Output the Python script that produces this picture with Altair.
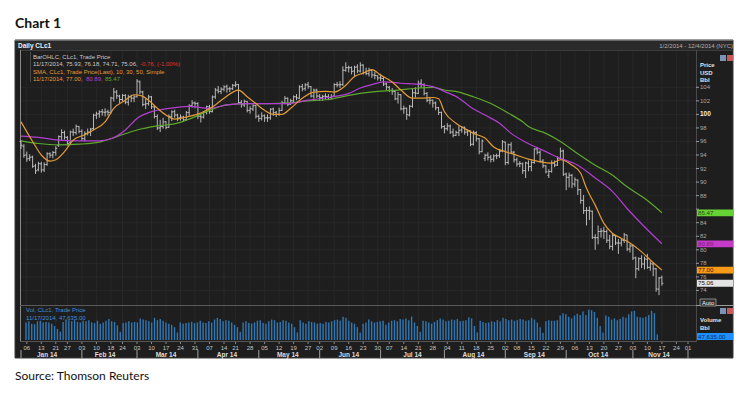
import altair as alt
import pandas as pd

# ---------------- data ----------------
# one entry per trading day, 2 Jan 2014 .. 17 Nov 2014 (CLc1)
OPEN = [96.0, 95.3, 94.0, 93.5, 93.7, 92.4, 91.8, 92.7, 91.8, 92.6, 94.2, 94.0, 94.4, 95.4, 96.7, 97.3, 96.6, 95.8, 97.4, 97.3, 98.2,
        97.5, 96.4, 97.2, 97.4, 97.9, 99.9, 100.1, 100.4, 100.3, 100.4, 100.3, 102.4, 103.3, 102.7, 102.2, 102.8, 101.8, 102.6, 102.4,
        102.6, 104.8, 103.3, 101.5, 101.6, 102.6, 101.1, 99.7, 98.0, 98.2, 98.9, 98.1, 99.7, 100.4, 99.9, 99.5, 99.6, 99.2, 100.3, 101.3, 101.7,
        101.6, 99.7, 99.6, 100.3, 101.1, 100.4, 102.6, 103.6, 103.4, 103.7, 104.1, 103.8, 103.8, 104.3, 104.4, 101.8, 101.4, 101.9, 100.6, 100.8, 101.3,
        99.7, 99.4, 99.8, 99.5, 99.5, 100.8, 100.3, 100.0, 100.6, 101.7, 102.4, 101.5, 102.0, 102.6, 102.4, 104.1, 103.8, 104.4, 104.1, 102.7, 103.6,
        102.7, 102.5, 102.7, 102.6, 102.5, 102.7, 104.4, 104.4, 104.4, 106.5, 106.9, 106.9, 106.4, 107.0, 106.4, 107.3, 106.2, 106.0, 106.5, 105.8, 105.7,
        105.4, 105.3, 104.5, 104.0, 103.5, 103.4, 102.3, 102.9, 100.8, 100.9, 99.9, 101.2, 103.2, 103.1, 104.6, 104.4, 103.1, 102.1, 102.1, 101.7, 101.0, 100.3,
        98.2, 97.9, 98.3, 97.4, 96.9, 97.3, 97.7, 98.1, 97.4, 97.6, 95.6, 97.3, 96.4, 94.5, 93.5, 94.0, 93.7, 93.4, 93.9, 93.9, 94.6,
        95.9, 92.9, 95.5, 94.4, 93.3, 92.7, 92.7, 91.7, 92.8, 92.3, 92.9, 94.9, 94.4, 93.1, 92.4, 91.0, 91.6, 92.8, 92.5, 93.5, 94.6,
        91.2, 90.7, 91.0, 89.7, 90.3, 88.9, 87.3, 85.8, 85.8, 85.7, 81.8, 81.8, 82.7, 82.8, 82.7, 81.4, 80.5, 82.1, 81.0, 81.0, 81.4, 82.2, 80.1,
        80.6, 78.8, 77.2, 78.7, 77.9, 78.6, 77.4, 77.9, 77.2, 74.2, 75.93]
HIGH = [96.2, 95.6, 94.5, 94.1, 93.9, 92.7, 93.0, 93.0, 92.9, 94.4, 94.4, 94.6, 95.3, 96.9, 97.8, 97.6, 96.8, 97.6, 97.9, 98.5, 98.3,
        97.8, 97.5, 97.9, 98.0, 100.1, 100.4, 100.6, 100.8, 100.9, 100.7, 102.6, 103.9, 103.6, 102.9, 103.0, 103.0, 102.9, 102.9, 102.9,
        105.2, 105.0, 103.5, 102.3, 102.9, 102.7, 101.3, 100.0, 99.2, 99.5, 99.0, 100.0, 100.6, 100.7, 100.1, 100.0, 99.8, 100.5, 101.5, 102.1, 101.9,
        101.8, 100.2, 100.5, 101.3, 101.4, 102.8, 103.9, 104.2, 104.0, 104.3, 104.4, 104.1, 104.5, 104.9, 104.5, 102.1, 102.2, 102.0, 101.2, 101.5, 101.4,
        100.0, 100.3, 100.0, 100.0, 100.9, 101.0, 100.5, 101.0, 102.0, 102.7, 102.5, 102.3, 102.8, 103.0, 104.3, 104.5, 104.6, 104.8, 104.2, 103.8, 103.8,
        103.0, 102.9, 103.1, 103.0, 103.0, 104.6, 104.8, 104.9, 107.1, 107.7, 107.2, 107.1, 107.2, 107.4, 107.7, 107.4, 106.9, 106.9, 106.6, 106.3, 105.8,
        106.0, 105.5, 104.7, 104.2, 103.9, 103.5, 103.3, 103.0, 101.3, 101.0, 101.4, 103.8, 104.0, 105.0, 105.2, 104.6, 103.3, 102.6, 102.2, 101.9, 101.1, 100.4,
        98.4, 98.7, 98.5, 97.9, 97.6, 98.3, 98.3, 98.2, 97.8, 97.6, 97.6, 97.5, 96.5, 96.3, 94.2, 94.4, 94.0, 94.1, 94.2, 94.9, 96.2,
        96.0, 95.7, 95.9, 94.6, 93.6, 93.1, 92.9, 93.0, 93.2, 93.2, 95.0, 95.2, 94.7, 93.4, 92.5, 91.9, 93.2, 93.2, 93.8, 95.1, 94.8,
        91.4, 91.4, 91.2, 90.7, 90.4, 89.0, 88.1, 86.3, 86.4, 85.8, 82.3, 83.6, 83.2, 83.4, 83.0, 82.2, 82.4, 82.2, 81.6, 81.7, 82.5, 82.2, 80.9,
        80.8, 79.0, 78.9, 79.2, 79.0, 79.4, 78.3, 78.1, 77.3, 76.0, 76.18]
LOW = [94.9, 93.6, 93.0, 93.1, 92.1, 91.2, 91.6, 91.4, 91.5, 92.4, 93.6, 93.5, 93.9, 95.2, 96.2, 96.3, 95.4, 95.6, 96.8, 97.0, 97.2,
       96.1, 96.0, 96.9, 96.8, 97.7, 99.3, 99.5, 99.8, 99.7, 99.8, 100.1, 101.9, 102.3, 101.7, 101.9, 101.5, 101.3, 101.8, 101.8,
       102.5, 103.0, 101.2, 100.8, 101.3, 100.8, 99.4, 97.7, 97.4, 97.9, 97.8, 98.0, 99.0, 99.5, 99.0, 99.1, 98.9, 99.1, 99.8, 101.0, 100.9,
       99.3, 98.8, 99.4, 100.0, 100.1, 100.3, 102.3, 103.1, 103.0, 103.4, 103.2, 103.3, 103.6, 104.0, 101.6, 101.0, 101.1, 100.3, 100.1, 100.5, 99.4,
       98.9, 99.1, 98.9, 98.9, 99.2, 99.8, 99.6, 99.8, 100.5, 101.5, 101.2, 101.4, 101.8, 102.1, 102.3, 103.4, 103.5, 103.8, 102.5, 102.3, 102.4,
       102.0, 102.0, 102.2, 102.1, 102.2, 102.6, 104.0, 103.9, 104.2, 106.3, 106.2, 105.9, 105.6, 106.1, 106.2, 105.9, 105.8, 105.6, 105.4, 105.2, 105.0,
       104.9, 104.2, 103.6, 103.3, 102.9, 102.1, 101.6, 100.6, 100.1, 99.2, 99.7, 101.0, 102.5, 103.0, 104.0, 102.8, 101.8, 101.5, 101.0, 100.6, 99.9, 97.9,
       97.2, 97.6, 97.1, 96.6, 96.8, 96.8, 97.3, 97.0, 96.8, 95.3, 95.4, 96.0, 94.1, 94.4, 93.1, 93.2, 92.9, 93.0, 93.4, 93.6, 94.4,
       92.5, 92.6, 94.2, 92.9, 92.3, 92.2, 91.2, 90.6, 91.6, 91.6, 92.7, 94.1, 92.9, 92.1, 91.3, 90.6, 91.4, 92.2, 92.4, 93.3, 90.9,
       88.8, 89.2, 89.1, 89.3, 88.1, 86.8, 85.3, 83.6, 84.4, 81.6, 80.0, 80.8, 81.8, 81.6, 81.0, 80.1, 79.9, 80.7, 79.4, 80.5, 81.0, 79.8, 79.6,
       78.5, 75.8, 76.9, 77.3, 77.1, 77.2, 76.9, 76.1, 73.8, 73.3, 74.71]
CLOSE = [95.44, 93.96, 93.43, 93.67, 92.33, 91.66, 92.72, 91.80, 92.59, 94.17, 93.96, 94.37, 94.99, 96.73, 97.32, 96.64, 95.72, 97.41, 97.36, 98.23, 97.49,
         96.43, 97.19, 97.38, 97.84, 99.88, 100.06, 100.37, 100.35, 100.35, 100.30, 102.43, 103.31, 102.75, 102.20, 102.82, 101.83, 102.59, 102.40, 102.59,
         104.92, 103.33, 101.45, 101.56, 102.58, 101.12, 99.69, 97.99, 98.20, 98.89, 98.08, 99.70, 100.37, 99.90, 99.46, 99.60, 99.19, 100.26, 101.28, 101.67, 101.58,
         99.74, 99.62, 100.29, 101.14, 100.44, 102.56, 103.60, 103.40, 103.74, 104.05, 103.75, 103.76, 104.30, 104.38, 101.75, 101.44, 101.94, 100.60, 100.84, 101.28, 99.74,
         99.42, 99.76, 99.48, 99.50, 100.77, 100.26, 99.99, 100.59, 101.70, 102.37, 101.50, 102.02, 102.61, 102.44, 104.07, 103.75, 104.35, 104.11, 102.72, 103.58, 102.71,
         102.47, 102.66, 102.64, 102.48, 102.66, 104.41, 104.35, 104.40, 106.53, 106.91, 106.90, 106.36, 106.97, 106.43, 107.26, 106.17, 106.03, 106.50, 105.84, 105.74, 105.37,
         105.34, 104.48, 104.06, 103.53, 103.40, 102.29, 102.93, 100.83, 100.91, 99.96, 101.20, 103.19, 103.13, 104.59, 104.42, 103.12, 102.07, 102.09, 101.67, 100.97, 100.27, 98.17,
         97.88, 98.29, 97.38, 96.92, 97.34, 97.65, 98.08, 97.37, 97.59, 95.58, 97.35, 96.41, 94.48, 96.07, 93.96, 93.65, 93.35, 93.86, 93.88, 94.55, 95.96,
         92.88, 95.54, 94.45, 93.29, 92.66, 92.75, 91.67, 92.83, 92.27, 92.92, 94.88, 94.42, 93.07, 92.41, 91.52, 91.56, 92.80, 92.53, 93.54, 94.57, 91.16,
         90.73, 91.01, 89.74, 90.34, 88.85, 87.31, 85.77, 85.82, 85.74, 81.84, 81.78, 82.70, 82.75, 82.71, 81.42, 80.52, 82.09, 81.01, 81.00, 81.42, 82.20, 80.12, 80.54,
         78.78, 77.19, 78.68, 77.91, 78.65, 77.40, 77.94, 77.18, 74.21, 75.82, 75.06]
VOLUME_K = [150, 160, 140, 135, 160, 165, 150, 155, 150, 140, 120, 95, 70, 155, 175, 170, 160, 170, 155, 150, 165,
            160, 170, 150, 145, 165, 140, 150, 165, 180, 160, 155, 125, 70, 145, 150, 160, 150, 155, 150,
            185, 175, 170, 160, 150, 190, 170, 180, 165, 150, 140, 130, 110, 65, 150, 140, 145, 150, 155, 145, 150,
            165, 150, 145, 160, 150, 175, 190, 180, 160, 170, 165, 150, 130, 110, 70, 150, 160, 145, 140, 150, 165,
            170, 145, 140, 160, 175, 170, 150, 155, 170, 165, 150, 140, 110, 65, 170, 150, 140, 160, 155, 150, 140,
            145, 140, 155, 150, 160, 170, 175, 165, 200, 190, 165, 150, 140, 110, 65, 140, 150, 175, 160, 150, 155,
            160, 165, 130, 150, 165, 170, 160, 180, 175, 185, 170, 200, 150, 120, 70, 165, 160, 150, 140, 155, 170, 185,
            175, 160, 165, 175, 170, 180, 160, 165, 170, 195, 185, 120, 65, 165, 155, 145, 150, 160, 155, 170, 160,
            190, 180, 170, 175, 165, 170, 180, 175, 165, 170, 190, 175, 150, 110, 60, 160, 170, 165, 165, 170, 210,
            230, 220, 200, 185, 210, 225, 215, 245, 215, 260, 255, 240, 190, 120, 65, 210, 200, 175, 185, 170, 180, 200, 190,
            220, 245, 250, 200, 195, 190, 200, 215, 250, 230, 47.635]

# moving averages (trading-day index, value)
MA10_IDX = [0, 4, 7, 10, 12, 15, 18, 22, 25, 29, 32, 36, 39, 41, 44, 47, 50, 53, 56, 58, 62, 67, 70, 75, 78, 81, 84, 87, 90, 93, 97,
            101, 105, 108, 112, 115, 118, 121, 124, 128, 131, 135, 138, 142, 144, 146, 150, 153, 156, 160, 163, 167, 170, 175, 179,
            183, 186, 190, 193, 195, 198, 201, 204, 207, 210, 214, 217, 221]
MA10 = [98.9, 96.0, 94.0, 93.1, 93.3, 94.5, 96.2, 97.0, 97.7, 98.9, 100.9, 102.1, 102.9, 102.8, 102.1, 100.9, 99.9, 99.3, 99.5, 99.7,
        100.2, 101.4, 102.4, 103.6, 102.6, 101.6, 100.6, 100.0, 100.0, 100.9, 102.4, 103.3, 103.4, 103.3, 104.3, 105.6, 106.1, 106.6,
        105.8, 104.8, 103.6, 102.4, 102.4, 102.5, 102.3, 100.4, 98.7, 97.9, 97.2, 96.5, 95.2, 94.5, 94.1, 93.4, 93.0, 92.8, 93.3, 92.5,
        91.3, 89.1, 86.6, 83.9, 82.4, 81.7, 81.0, 79.7, 78.5, 77.0]
MA30_IDX = [0, 6, 13, 20, 27, 31, 36, 40, 45, 51, 58, 65, 71, 78, 85, 92, 99, 106, 113, 117, 121, 125, 131, 138, 142, 146, 151, 155,
            160, 165, 169, 174, 181, 186, 192, 198, 204, 209, 215, 221]
MA30 = [96.8, 96.6, 96.2, 96.1, 96.1, 96.4, 97.7, 99.4, 100.4, 100.9, 101.2, 100.9, 101.4, 101.6, 101.6, 101.6, 102.1, 102.5, 103.1,
        103.9, 104.4, 104.8, 104.6, 104.4, 104.1, 103.4, 102.4, 101.1, 99.9, 98.7, 97.2, 95.9, 94.5, 93.5, 92.5, 90.6, 88.6, 86.1,
        83.4, 80.89]
MA50_IDX = [0, 6, 13, 20, 27, 33, 40, 47, 54, 58, 65, 71, 78, 85, 92, 99, 106, 113, 117, 123, 130, 137, 142, 146, 151, 156, 162, 168,
            173, 175, 181, 186, 192, 198, 204, 209, 215, 221]
MA50 = [96.1, 95.7, 95.5, 95.6, 95.9, 96.7, 97.7, 98.3, 98.7, 99.3, 100.6, 101.4, 101.6, 101.6, 101.7, 102.0, 102.2, 102.8, 103.1,
        103.4, 103.6, 103.9, 104.0, 103.6, 103.3, 102.6, 101.6, 100.2, 98.9, 98.2, 97.2, 96.0, 94.2, 92.5, 91.0, 89.3, 87.6, 85.47]

WEEK_IDX = [2, 7, 12, 16, 21, 26, 31, 35, 40, 45, 50, 55, 60, 65, 70, 74, 79, 84, 89, 94, 99, 103, 108, 113, 118, 123,
            127, 132, 137, 142, 147, 152, 157, 162, 167, 171, 176, 181, 186, 191, 196, 201, 206, 211, 216, 221, 226, 230]
WEEK_LABELS = ["06", "13", "21", "27", "03", "10", "18", "24", "03", "10", "17", "24", "31", "07", "14", "21", "28",
               "05", "12", "19", "27", "02", "09", "16", "23", "30", "07", "14", "21", "28", "04", "11", "18", "25",
               "02", "08", "15", "22", "29", "06", "13", "20", "27", "03", "10", "17", "24", "01"]
MONTH_START_IDX = [0, 21, 40, 61, 82, 103, 124, 146, 167, 188, 211, 230]
MONTH_MID_IDX = [9, 29, 50, 71, 92, 113, 135, 156, 177, 199, 220]
MONTH_LABELS = ["Jan 14", "Feb 14", "Mar 14", "Apr 14", "May 14", "Jun 14", "Jul 14", "Aug 14", "Sep 14", "Oct 14", "Nov 14"]
# price labels visible on the right axis (86 is hidden under the green value tag)
PRICE_TICKS = [74, 76, 78, 80, 82, 84, 86, 88, 90, 92, 94, 96, 98, 100, 102, 104]
PRICE_LABELS_SHOWN = [74, 76, 78, 80, 82, 84, 88, 90, 92, 94, 96, 98, 100, 102, 104]

TAG_VALUES = [85.47, 80.89, 77.00, 75.06]
TAG_TEXT = ["85.47", "80.89", "77.00", "75.06"]

# ---------------- styling ----------------
M = 8  # page margin


def px(v):
    return v - M


W, H = 734, 381
FONT = "Liberation Sans"
PANEL = "#1e1e1e"
GRID = "#2a2a2a"
BARC = "#cacaca"
ORANGE = "#e39b35"
PURPLE = "#b23fd2"
GREEN = "#5ea82c"
VOLC = "#2f78b6"

X_SCALE = alt.Scale(domain=[0, 230], range=[px(21), px(688)], zero=False, nice=False)
P_SCALE = alt.Scale(domain=[70, 110], range=[px(317.5), px(46.7)], zero=False, nice=False)
V_SCALE = alt.Scale(domain=[0, 300], range=[px(340), px(305)], nice=False)

one = pd.DataFrame({"k": [0]})


def X(field="i"):
    return alt.X(f"{field}:Q", scale=X_SCALE, axis=None)


def Y(field):
    return alt.Y(f"{field}:Q", scale=P_SCALE, axis=None)


def rect(x1, y1, x2, y2, fill, stroke=None, sw=0):
    kw = dict(fill=fill)
    if stroke:
        kw.update(stroke=stroke, strokeWidth=sw)
    return alt.Chart(one).mark_rect(**kw).encode(
        x=alt.value(px(x1)), x2=alt.value(px(x2)), y=alt.value(px(y1)), y2=alt.value(px(y2)))


def hline(x1, x2, y, color, w=1.0):
    return alt.Chart(one).mark_rule(color=color, strokeWidth=w).encode(
        x=alt.value(px(x1)), x2=alt.value(px(x2)), y=alt.value(px(y)))


def vline(x, y1, y2, color, w=1.0):
    return alt.Chart(one).mark_rule(color=color, strokeWidth=w).encode(
        x=alt.value(px(x)), y=alt.value(px(y1)), y2=alt.value(px(y2)))


def text(s, x, y, size, color, weight="normal", align="left", font=FONT, baseline="middle"):
    return alt.Chart(one).mark_text(text=s, align=align, baseline=baseline, fontSize=size, color=color,
                                    fontWeight=weight, font=font).encode(
        x=alt.value(px(x)), y=alt.value(px(y)))


n = len(CLOSE)
df = pd.DataFrame({"i": list(range(n)), "o": OPEN, "h": HIGH, "l": LOW, "c": CLOSE, "v": VOLUME_K})
base = alt.Chart(df)

layers = []
# panel
layers.append(rect(15, 40, 733, 358, PANEL, "#3a3a3a", 1))
layers.append(rect(15, 40, 733, 50, "#2a2a2a"))
layers.append(hline(15, 733, 40.5, "#6a6a6a", 1))
layers.append(hline(20, 733, 50.5, "#3c3c3c", 1))

# grid
grid_h = alt.Chart(pd.DataFrame({"p": PRICE_TICKS})).mark_rule(color=GRID, strokeWidth=0.8).encode(
    y=Y("p"), x=alt.value(px(21)), x2=alt.value(px(696)))
grid_v = alt.Chart(pd.DataFrame({"i": WEEK_IDX})).mark_rule(color=GRID, strokeWidth=0.8).encode(
    x=X(), y=alt.value(px(51)), y2=alt.value(px(341)))
layers += [grid_h, grid_v]

# borders / separators
layers.append(vline(20.5, 50, 342, "#8a8a8a", 1))
layers.append(vline(696.5, 50, 342, "#4a4a4a", 1))
layers.append(hline(20, 696, 305.5, "#5a5a5a", 1))
layers.append(hline(696, 733, 305.5, "#9a9a9a", 1))
layers.append(hline(20, 696, 341.5, "#555555", 1))
layers.append(vline(30.5, 52, 82, "#4a4a4a", 1))

# volume
vol = base.mark_bar(size=1.4, color=VOLC).encode(x=X(), y=alt.Y("v:Q", scale=V_SCALE, axis=None))
layers.append(vol)

# OHLC bars
hl = base.mark_rule(color=BARC, strokeWidth=0.9).encode(x=X(), y=Y("l"), y2="h:Q")
op = base.transform_calculate(xl="datum.i - 0.5").mark_rule(color=BARC, strokeWidth=0.9).encode(
    x=X("xl"), x2="i:Q", y=Y("o"))
cl = base.transform_calculate(xr="datum.i + 0.5").mark_rule(color=BARC, strokeWidth=0.9).encode(
    x=X("i"), x2="xr:Q", y=Y("c"))
layers += [hl, op, cl]

# moving averages
for idx, vals, col in [(MA50_IDX, MA50, GREEN), (MA30_IDX, MA30, PURPLE), (MA10_IDX, MA10, ORANGE)]:
    layers.append(alt.Chart(pd.DataFrame({"i": idx, "m": vals})).mark_line(
        color=col, strokeWidth=1.2, interpolate="monotone").encode(x=X(), y=Y("m")))

# price axis
ticks_df = pd.DataFrame({"p": PRICE_TICKS})
labels_df = pd.DataFrame({"p": PRICE_LABELS_SHOWN, "t": [str(p) for p in PRICE_LABELS_SHOWN]})
layers.append(alt.Chart(ticks_df).mark_rule(color="#9a9a9a").encode(
    y=Y("p"), x=alt.value(px(696)), x2=alt.value(px(699))))
layers.append(alt.Chart(labels_df).transform_filter("datum.p != 100").mark_text(
    align="left", baseline="middle", fontSize=6, color="#a8a8a8", font=FONT).encode(
    x=alt.value(px(700)), y=Y("p"), text="t:N"))
layers.append(alt.Chart(labels_df).transform_filter("datum.p == 100").mark_text(
    align="left", baseline="middle", fontSize=6.5, color="#f0f0f0", fontWeight="bold", font=FONT).encode(
    x=alt.value(px(700)), y=Y("p"), text="t:N"))

# value tags
tags = pd.DataFrame({"p": TAG_VALUES, "t": TAG_TEXT,
                     "fill": ["#66d236", "#c43cc8", "#f79a1a", "#e4e4e4"],
                     "tc": ["#1f4a0c", "#7a1a80", "#3a2200", "#111111"]})
layers.append(alt.Chart(tags).transform_calculate(lo="datum.p - 0.5", hi="datum.p + 0.5").mark_rect().encode(
    x=alt.value(px(697)), x2=alt.value(px(733)), y=Y("lo"), y2="hi:Q", color=alt.Color("fill:N", scale=None)))
layers.append(alt.Chart(tags).mark_text(align="left", baseline="middle", fontSize=6.2, font=FONT).encode(
    x=alt.value(px(698)), y=Y("p"), text="t:N", color=alt.Color("tc:N", scale=None)))

# x axis
wk = pd.DataFrame({"i": WEEK_IDX, "t": WEEK_LABELS})
layers.append(alt.Chart(wk).mark_rule(color="#8a8a8a").encode(
    x=X(), y=alt.value(px(342)), y2=alt.value(px(344))))
layers.append(alt.Chart(wk).mark_text(fontSize=6, color="#c4c4c4", baseline="middle", align="center", font=FONT).encode(
    x=X(), y=alt.value(px(347.5)), text="t:N"))
layers.append(alt.Chart(pd.DataFrame({"i": MONTH_START_IDX})).mark_rule(color="#a0a0a0").encode(
    x=X(), y=alt.value(px(350)), y2=alt.value(px(358))))
layers.append(alt.Chart(pd.DataFrame({"i": MONTH_MID_IDX, "t": MONTH_LABELS})).mark_text(
    fontSize=6.5, fontWeight="bold", color="#dedede", baseline="middle", align="center", font=FONT).encode(
    x=X(), y=alt.value(px(354.5)), text="t:N"))

# header and legend texts
layers.append(text("Daily CLc1", 18, 45.5, 6.5, "#f0f0f0", "bold"))
layers.append(text("1/2/2014 - 12/4/2014 (NYC)", 733, 45.5, 6, "#b0b0b0", align="right"))
layers.append(text("BarOHLC, CLc1, Trade Price", 33, 56.5, 6, "#c8c8c8"))
layers.append(text("11/17/2014, 75.93, 76.18, 74.71, 75.06,", 33, 64, 6, "#c8c8c8"))
layers.append(text("-0.76, (-1.00%)", 140, 64, 6, "#e0302a"))
layers.append(text("SMA, CLc1, Trade Price(Last),  10, 30, 50, Simple", 33, 71.5, 6, ORANGE))
layers.append(text("11/17/2014, 77.00,", 33, 79, 6, ORANGE))
layers.append(text("80.89,", 86, 79, 6, PURPLE))
layers.append(text("85.47", 105, 79, 6, GREEN))
layers.append(text("Vol, CLc1, Trade Price", 26, 310, 6, "#3f8fd8"))
layers.append(text("11/17/2014, 47,635.00", 26, 317.5, 6, "#3f8fd8"))

# right side labels
layers.append(text("Price", 700, 65, 6, "#e0e0e0", "bold"))
layers.append(text("USD", 700, 72.5, 6, "#e0e0e0", "bold"))
layers.append(text("Bbl", 700, 80, 6, "#e0e0e0", "bold"))
layers.append(rect(720, 55, 726, 61, "#7d93b6"))
layers.append(rect(727, 55, 733, 61, "#c45a5a"))
layers.append(rect(720, 308, 726, 314, "#7d93b6"))
layers.append(rect(727, 308, 733, 314, "#c45a5a"))
layers.append(rect(700, 299, 716, 306, "#303030", "#a0a0a0", 0.8))
layers.append(text("Auto", 702, 302.5, 6, "#f0f0f0"))
layers.append(text("Volume", 700, 320, 6, "#e0e0e0", "bold"))
layers.append(text("Bbl", 700, 327.5, 6, "#e0e0e0", "bold"))
layers.append(rect(697, 333, 733, 340, "#1e8fff"))
layers.append(text("47,635.00", 698, 336.5, 6.2, "#0d2c5a"))

# page title and source
layers.append(text("Chart 1", 15, 28, 14, "#111111", "bold", font="Lato", baseline="alphabetic"))
layers.append(text("Source: Thomson Reuters", 15, 380, 12, "#111111", font="Lato", baseline="alphabetic"))

chart = alt.layer(*layers).resolve_scale(x="independent", y="independent", color="independent").properties(
    width=W, height=H, padding=0, autosize=alt.AutoSizeParams(type="none"), background="white"
).configure_view(stroke=None)

chart.save("out.html", embed_options={"renderer": "svg", "actions": False})
